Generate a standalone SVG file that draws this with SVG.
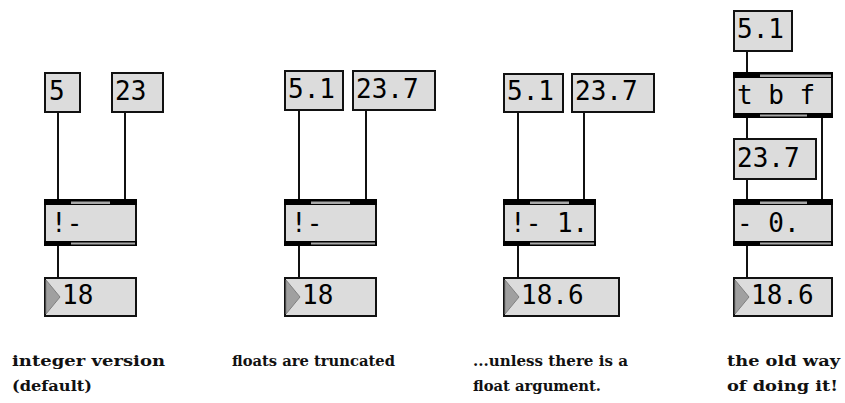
<svg xmlns="http://www.w3.org/2000/svg" width="845" height="403" viewBox="0 0 845 403">
<defs>
<style>
.bx{fill:#dcdcdc;stroke:#111;stroke-width:2}
.blk{fill:#000}
.gr{fill:#a8a8a8}
.tri{fill:#a0a0a0;stroke:#808080;stroke-width:1}
.w{stroke:#111;stroke-width:2;fill:none}
.t{font-family:"DejaVu Sans Mono","Liberation Mono",monospace;font-size:26px;fill:#000}
.c{font-family:"DejaVu Serif","Liberation Serif",serif;font-size:15px;font-weight:bold;fill:#111}
</style>
</defs>
<rect width="845" height="403" fill="#fff"/>
<g id="connectors">
<line class="w" x1="58" y1="113" x2="58" y2="199"/>
<line class="w" x1="125" y1="113" x2="125" y2="199"/>
<line class="w" x1="58" y1="246" x2="58" y2="277"/>
<line class="w" x1="299" y1="111" x2="299" y2="199"/>
<line class="w" x1="366" y1="111" x2="366" y2="199"/>
<line class="w" x1="299" y1="246" x2="299" y2="277"/>
<line class="w" x1="518" y1="113" x2="518" y2="199"/>
<line class="w" x1="584" y1="113" x2="584" y2="199"/>
<line class="w" x1="518" y1="246" x2="518" y2="277"/>
<line class="w" x1="747" y1="52" x2="747" y2="72"/>
<line class="w" x1="747" y1="118" x2="747" y2="138"/>
<line class="w" x1="747" y1="180" x2="747" y2="199"/>
<line class="w" x1="822" y1="118" x2="822" y2="199"/>
<line class="w" x1="747" y1="246" x2="747" y2="277"/>
</g>
<!-- column 1 -->
<g id="msg5"><rect class="bx" x="45" y="73" width="35" height="39"/><text class="t" x="49" y="100">5</text></g>
<g id="msg23"><rect class="bx" x="112" y="73" width="51" height="39"/><text class="t" x="115" y="100">23</text></g>
<g id="obj1"><rect class="bx" x="45" y="200" width="91" height="45"/>
<rect class="blk" x="44" y="199" width="93" height="6"/><rect class="gr" x="71" y="201.5" width="39" height="2.5"/>
<rect class="blk" x="44" y="241" width="93" height="5"/><rect class="gr" x="71" y="242.5" width="64" height="2"/>
<text class="t" x="51" y="232">!-</text></g>
<g id="num1"><rect class="bx" x="45" y="278" width="91" height="38"/><polygon class="tri" points="46,280 60,297 46,314"/><text class="t" x="62" y="304">18</text></g>
<!-- column 2 -->
<g id="msg51a"><rect class="bx" x="285" y="71" width="58" height="39"/><text class="t" x="288" y="98">5.1</text></g>
<g id="msg237a"><rect class="bx" x="353" y="71" width="82" height="39"/><text class="t" x="356" y="98">23.7</text></g>
<g id="obj2"><rect class="bx" x="285" y="200" width="91" height="45"/>
<rect class="blk" x="284" y="199" width="93" height="6"/><rect class="gr" x="311" y="201.5" width="39" height="2.5"/>
<rect class="blk" x="284" y="241" width="93" height="5"/><rect class="gr" x="311" y="242.5" width="64" height="2"/>
<text class="t" x="291" y="232">!-</text></g>
<g id="num2"><rect class="bx" x="285" y="278" width="91" height="38"/><polygon class="tri" points="286,280 300,297 286,314"/><text class="t" x="302" y="304">18</text></g>
<!-- column 3 -->
<g id="msg51b"><rect class="bx" x="504" y="74" width="59" height="38"/><text class="t" x="507" y="100">5.1</text></g>
<g id="msg237b"><rect class="bx" x="572" y="74" width="82" height="38"/><text class="t" x="575" y="100">23.7</text></g>
<g id="obj3"><rect class="bx" x="504" y="200" width="91" height="45"/>
<rect class="blk" x="503" y="199" width="93" height="6"/><rect class="gr" x="530" y="201.5" width="39" height="2.5"/>
<rect class="blk" x="503" y="241" width="93" height="5"/><rect class="gr" x="530" y="242.5" width="64" height="2"/>
<text class="t" x="510" y="232">!- 1.</text></g>
<g id="num3"><rect class="bx" x="504" y="278" width="115" height="38"/><polygon class="tri" points="505,280 519,297 505,314"/><text class="t" x="521" y="304">18.6</text></g>
<!-- column 4 -->
<g id="msg51c"><rect class="bx" x="734" y="11" width="58" height="40"/><text class="t" x="737" y="38">5.1</text></g>
<g id="objtbf"><rect class="bx" x="734" y="73" width="98" height="44"/>
<rect class="blk" x="733" y="72" width="100" height="6"/><rect class="gr" x="760" y="74.5" width="71" height="2.5"/>
<rect class="blk" x="733" y="113" width="100" height="5"/><rect class="gr" x="760" y="114.5" width="47" height="2"/>
<text class="t" x="737" y="104">t b f</text></g>
<g id="msg237c"><rect class="bx" x="734" y="139" width="82" height="40"/><text class="t" x="737" y="167">23.7</text></g>
<g id="objminus"><rect class="bx" x="734" y="200" width="98" height="45"/>
<rect class="blk" x="733" y="199" width="100" height="6"/><rect class="gr" x="760" y="201.5" width="47" height="2.5"/>
<rect class="blk" x="733" y="241" width="100" height="5"/><rect class="gr" x="760" y="242.5" width="71" height="2"/>
<text class="t" x="737" y="232">- 0.</text></g>
<g id="num4"><rect class="bx" x="734" y="278" width="98" height="38"/><polygon class="tri" points="735,280 749,297 735,314"/><text class="t" x="751" y="304">18.6</text></g>
<!-- captions -->
<g id="captions">
<text class="c" x="12" y="366" textLength="153" lengthAdjust="spacingAndGlyphs">integer version</text>
<text class="c" x="12" y="391" textLength="80" lengthAdjust="spacingAndGlyphs">(default)</text>
<text class="c" x="232" y="366" textLength="163" lengthAdjust="spacingAndGlyphs">floats are truncated</text>
<text class="c" x="473" y="366" textLength="155" lengthAdjust="spacingAndGlyphs">...unless there is a</text>
<text class="c" x="473" y="391" textLength="128" lengthAdjust="spacingAndGlyphs">float argument.</text>
<text class="c" x="727" y="366" textLength="113" lengthAdjust="spacingAndGlyphs">the old way</text>
<text class="c" x="727" y="391" textLength="111" lengthAdjust="spacingAndGlyphs">of doing it!</text>
</g>
</svg>
